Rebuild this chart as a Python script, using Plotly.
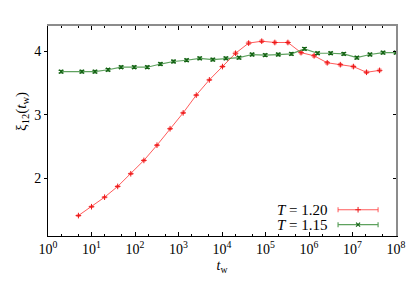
import plotly.graph_objects as go

# ---- data ----
red_tw = [5, 10, 20, 40, 80, 160, 320, 640, 1280, 2560, 5120, 10240, 20480, 40960,
          81920, 163840, 327680, 655360, 1310720, 2621440, 5242880, 10485760,
          20971520, 41943040]
red_xi = [1.41, 1.55, 1.70, 1.87, 2.07, 2.28, 2.52, 2.78, 3.03, 3.31, 3.55, 3.76,
          3.97, 4.13, 4.16, 4.14, 4.14, 3.98, 3.93, 3.82, 3.79, 3.76, 3.67, 3.70]
red_err = [0.01] * 12 + [0.02] * 12

green_tw = [2, 6, 12, 24, 48, 96, 192, 384, 768, 1536, 3072, 6144, 12288, 24576,
            49152, 98304, 196608, 393216, 786432, 1572864, 3145728, 6291456,
            12582912, 25165824, 50331648, 100663296]
green_xi = [3.68, 3.68, 3.68, 3.71, 3.75, 3.75, 3.75, 3.80, 3.84, 3.86, 3.89, 3.87,
            3.89, 3.90, 3.95, 3.94, 3.95, 3.96, 4.04, 3.97, 3.97, 3.96, 3.90, 3.95,
            3.98, 3.98]
green_err = [0.02] * 26

x_tickvals = [1, 10, 100, 1e3, 1e4, 1e5, 1e6, 1e7, 1e8]
x_ticktext = ["10<sup>%d</sup>" % i for i in range(9)]
x_minor = [m * 10 ** e for e in range(8) for m in (2, 5)]
y_tickvals = [2, 3, 4]
y_ticktext = ["2", "3", "4"]

series_labels = ["<i>T</i> = 1.20", "<i>T</i> = 1.15"]

FONT = "Liberation Serif"
RED_LINE = "rgba(255,50,50,0.8)"
RED_MK = "rgb(235,25,25)"
GRN_LINE = "rgba(40,130,40,0.75)"
GRN_MK = "rgb(20,100,20)"

fig = go.Figure()

fig.add_trace(go.Scatter(
    x=red_tw, y=red_xi, mode="lines+markers",
    line=dict(color=RED_LINE, width=1),
    marker=dict(symbol="cross-thin", size=4, color=RED_MK, line=dict(color=RED_MK, width=1)),
    error_y=dict(type="data", array=red_err, color=RED_LINE, thickness=1, width=2),
    showlegend=False))
fig.add_trace(go.Scatter(
    x=green_tw, y=green_xi, mode="lines+markers",
    line=dict(color=GRN_LINE, width=1.2),
    marker=dict(symbol="x-thin", size=4, color=GRN_MK, line=dict(color=GRN_MK, width=1.2)),
    error_y=dict(type="data", array=green_err, color=GRN_MK, thickness=1, width=2.5),
    showlegend=False))

# dummy trace so top/right mirror axes are drawn
fig.add_trace(go.Scatter(x=[], y=[], xaxis="x2", yaxis="y2", showlegend=False))

# legend samples in a hidden [0,1] coordinate system
fig.add_trace(go.Scatter(
    x=[0.891], y=[0.125], xaxis="x3", yaxis="y3", mode="markers",
    marker=dict(symbol="cross-thin", size=4, color=RED_MK, line=dict(color=RED_MK, width=1)),
    error_x=dict(type="data", array=[0.0575], color=RED_LINE, thickness=1, width=2.5),
    showlegend=False, cliponaxis=False))
fig.add_trace(go.Scatter(
    x=[0.891], y=[0.054], xaxis="x3", yaxis="y3", mode="markers",
    marker=dict(symbol="x-thin", size=4, color=GRN_MK, line=dict(color=GRN_MK, width=1.2)),
    error_x=dict(type="data", array=[0.0575], color=GRN_LINE, thickness=1.2, width=2.5),
    showlegend=False, cliponaxis=False))

xcommon = dict(type="log", range=[0, 8], showgrid=False, zeroline=False,
               tickvals=x_tickvals, ticks="inside", ticklen=4, tickcolor="black",
               minor=dict(tickmode="array", tickvals=x_minor, ticks="inside",
                          ticklen=2, tickcolor="black", showgrid=False))
ycommon = dict(range=[1.088, 4.40], showgrid=False, zeroline=False,
               tickvals=y_tickvals)

fig.update_layout(
    width=415, height=291,
    margin=dict(l=40, r=27, t=18, b=63),
    paper_bgcolor="white", plot_bgcolor="white",
    font=dict(family=FONT, size=14, color="black"),
    xaxis=dict(**xcommon, ticktext=x_ticktext, showline=True, linecolor="black",
               linewidth=1, tickfont=dict(family=FONT, size=14),
               title=dict(text="<i>t</i><sub>w</sub>", font=dict(family=FONT, size=14),
                          standoff=4)),
    xaxis2=dict(**xcommon, overlaying="x", side="top", anchor="y",
                showticklabels=False, showline=True, linecolor="rgb(140,140,140)",
                linewidth=2),
    yaxis=dict(**ycommon, ticktext=y_ticktext, ticks="outside", ticklen=3,
               tickcolor="black", showline=True, linecolor="black", linewidth=1,
               tickfont=dict(family=FONT, size=14)),
    yaxis2=dict(**ycommon, overlaying="y", side="right", anchor="x",
                ticks="inside", ticklen=3, tickcolor="black",
                showticklabels=False, showline=True, linecolor="rgb(140,140,140)",
                linewidth=2),
    xaxis3=dict(overlaying="x", range=[0, 1], visible=False, anchor="y3"),
    yaxis3=dict(overlaying="y", range=[0, 1], visible=False, anchor="x3"),
    annotations=[
        dict(text="ξ<sub>12</sub>(<i>t</i><sub>w</sub>)", textangle=-90,
             xref="paper", yref="paper", x=-0.075, y=0.595,
             xanchor="center", yanchor="middle", showarrow=False,
             font=dict(family=FONT, size=15)),
        dict(text=series_labels[0], xref="paper", yref="paper", x=0.81, y=0.125,
             xanchor="right", yanchor="middle", showarrow=False,
             font=dict(family=FONT, size=15)),
        dict(text=series_labels[1], xref="paper", yref="paper", x=0.81, y=0.054,
             xanchor="right", yanchor="middle", showarrow=False,
             font=dict(family=FONT, size=15)),
    ],
)

fig.write_html("out.html")
